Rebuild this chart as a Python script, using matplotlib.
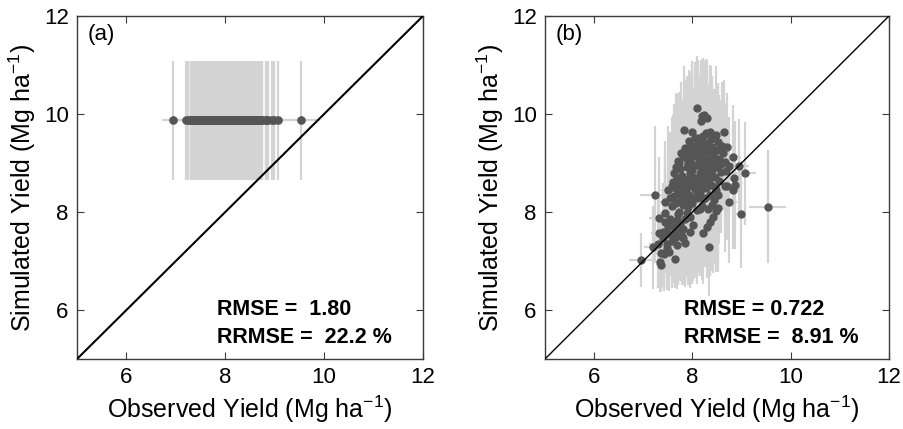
import matplotlib
matplotlib.use("Agg")
import matplotlib.pyplot as plt

plt.rcParams["font.family"] = ["Liberation Sans", "DejaVu Sans"]
plt.rcParams["mathtext.fontset"] = "custom"
plt.rcParams["mathtext.rm"] = "Liberation Sans"
plt.rcParams["mathtext.it"] = "Liberation Sans"

# Observed yield per site-year (Mg/ha) and simulated yield from the calibrated model
obs = [
    8.10, 8.19, 8.24, 8.29, 8.18, 7.83, 7.99, 8.65, 8.36, 8.53,
    8.71, 8.83, 8.75, 8.95, 9.07, 8.85, 8.86, 8.83, 8.66, 8.75,
    8.98, 9.53, 7.24, 7.67, 7.54, 7.31, 7.31, 7.20, 6.95, 7.33,
    7.36, 7.65, 8.34, 8.53, 8.47, 8.42, 8.36, 8.30, 8.21, 7.95,
    7.81, 7.41, 7.49, 7.68, 7.42, 8.02, 7.54, 7.68, 7.44, 7.73,
    8.15, 8.32, 8.26, 7.85, 7.37, 7.58, 7.78, 7.88, 8.09, 7.51,
    7.60, 8.70, 8.62, 8.68,
    8.05, 8.22, 8.38, 8.47, 7.92, 8.12, 8.30,
    7.85, 7.98, 8.08, 8.18, 8.28, 8.40, 8.52, 8.60, 7.76,
    7.82, 7.95, 8.05, 8.14, 8.24, 8.33, 8.44, 8.55, 8.66, 7.70,
    7.74, 7.88, 8.00, 8.10, 8.20, 8.30, 8.40, 8.50, 8.58, 7.62,
    7.68, 7.78, 7.90, 8.02, 8.12, 8.22, 8.34, 8.45, 8.55, 7.60,
    7.64, 7.74, 7.84, 7.95, 8.06, 8.16, 8.28, 8.38, 8.48, 7.50,
    7.62, 7.72, 7.82, 7.92, 8.02, 8.12, 8.22, 8.36, 8.44, 7.45,
    7.58, 7.66, 7.80, 7.90, 8.00, 8.20, 8.40, 7.70,
    8.15, 8.25, 8.05, 7.95, 8.35, 8.10, 8.20, 8.00, 7.90, 8.30,
    8.15, 7.85, 8.25, 8.45,
    7.50, 7.58, 7.70, 7.62, 7.75, 7.85, 7.95, 7.80, 7.55, 7.48,
    7.40, 7.45, 7.66, 7.30, 7.52,
    7.72, 7.80, 7.70, 7.76, 7.86, 7.96, 8.06, 8.16, 8.26, 8.36,
    8.46, 8.52, 8.10, 8.20, 7.98, 8.12, 8.28, 8.40, 7.88, 8.58,
]
sim = [
    10.13, 9.96, 9.98, 9.91, 9.86, 9.67, 9.64, 9.64, 9.64, 9.43,
    9.33, 9.13, 8.94, 8.94, 8.79, 8.70, 8.55, 8.45, 8.53, 8.20,
    7.95, 8.11, 8.35, 8.92, 8.28, 7.88, 7.58, 7.28, 7.02, 6.97,
    6.92, 7.04, 7.29, 8.08, 8.02, 7.90, 7.80, 7.70, 7.58, 7.60,
    7.46, 7.46, 7.26, 7.33, 7.14, 7.73, 7.77, 7.84, 7.97, 8.01,
    8.06, 8.06, 8.28, 7.36, 7.16, 8.54, 7.50, 7.97, 8.04, 7.70,
    7.55, 8.53, 9.20, 8.84,
    9.52, 9.55, 9.48, 9.58, 9.45, 9.42, 9.40,
    9.30, 9.28, 9.33, 9.27, 9.30, 9.32, 9.26, 9.35, 9.20,
    9.12, 9.08, 9.15, 9.10, 9.14, 9.06, 9.12, 9.08, 9.02, 9.05,
    8.88, 8.92, 8.86, 8.95, 8.90, 8.93, 8.86, 8.92, 8.82, 8.80,
    8.70, 8.74, 8.68, 8.72, 8.66, 8.75, 8.68, 8.72, 8.64, 8.62,
    8.48, 8.55, 8.50, 8.54, 8.46, 8.52, 8.48, 8.55, 8.45, 8.45,
    8.32, 8.38, 8.28, 8.35, 8.30, 8.36, 8.26, 8.34, 8.24, 8.20,
    8.12, 8.18, 8.14, 8.10, 8.18, 8.12, 8.15, 7.95,
    9.00, 8.80, 8.60, 8.80, 8.98, 9.20, 9.40, 9.35, 9.00, 8.60,
    8.40, 8.65, 9.20, 9.00,
    7.55, 7.40, 7.62, 7.70, 7.75, 7.85, 7.90, 7.65, 7.85, 7.35,
    7.60, 7.80, 7.48, 7.35, 7.18,
    9.00, 8.60, 8.45, 8.25, 8.40, 8.20, 8.95, 8.80, 9.05, 8.80,
    8.50, 8.35, 8.28, 8.62, 9.15, 9.50, 9.62, 9.20, 9.22, 8.98,
]
# Standard deviation of the observations (horizontal bars)
obs_sd = [
    0.08, 0.06, 0.07, 0.05, 0.06, 0.10, 0.08, 0.12, 0.07, 0.10,
    0.12, 0.15, 0.12, 0.20, 0.22, 0.15, 0.12, 0.14, 0.10, 0.15,
    0.12, 0.38, 0.30, 0.15, 0.18, 0.20, 0.15, 0.18, 0.24, 0.12,
    0.10, 0.12, 0.08, 0.10, 0.06, 0.05, 0.06, 0.05, 0.08, 0.07,
    0.10, 0.18, 0.15, 0.08, 0.16, 0.06, 0.12, 0.08, 0.15, 0.06,
    0.05, 0.06, 0.05, 0.08, 0.12, 0.14, 0.08, 0.06, 0.05, 0.12,
    0.10, 0.12, 0.10, 0.14,
    0.05, 0.06, 0.05, 0.08, 0.06, 0.05, 0.06,
    0.06, 0.05, 0.06, 0.05, 0.06, 0.05, 0.08, 0.10, 0.06,
    0.05, 0.06, 0.05, 0.05, 0.06, 0.05, 0.06, 0.08, 0.10, 0.08,
    0.06, 0.05, 0.05, 0.06, 0.05, 0.06, 0.05, 0.08, 0.10, 0.10,
    0.08, 0.06, 0.05, 0.05, 0.06, 0.05, 0.06, 0.06, 0.08, 0.12,
    0.08, 0.06, 0.05, 0.06, 0.05, 0.06, 0.05, 0.06, 0.08, 0.14,
    0.10, 0.08, 0.06, 0.05, 0.06, 0.05, 0.06, 0.05, 0.08, 0.15,
    0.10, 0.08, 0.06, 0.05, 0.06, 0.05, 0.08, 0.08,
    0.05, 0.05, 0.06, 0.05, 0.06, 0.05, 0.06, 0.05, 0.06, 0.05,
    0.06, 0.05, 0.06, 0.08,
    0.12, 0.14, 0.10, 0.12, 0.08, 0.06, 0.06, 0.08, 0.14, 0.15,
    0.16, 0.15, 0.10, 0.18, 0.14,
    0.06, 0.05, 0.08, 0.06, 0.05, 0.06, 0.05, 0.06, 0.05, 0.06,
    0.08, 0.06, 0.05, 0.06, 0.05, 0.06, 0.05, 0.06, 0.05, 0.08,
]
# Spread of the simulated yield across model ensemble members (vertical bars)
sim_sd = [
    1.05, 1.15, 1.10, 1.20, 1.25, 1.30, 1.45, 1.05, 1.35, 1.20,
    1.10, 1.05, 1.00, 0.95, 1.05, 1.10, 1.30, 1.20, 1.35, 1.25,
    1.10, 1.15, 1.40, 1.50, 1.35, 1.25, 1.10, 0.85, 0.55, 0.60,
    0.55, 0.60, 1.00, 1.30, 1.25, 1.15, 1.10, 1.05, 1.05, 1.00,
    0.95, 1.00, 0.85, 0.90, 0.75, 1.10, 1.05, 1.15, 1.20, 1.25,
    1.30, 1.35, 1.40, 0.90, 0.70, 1.40, 1.00, 1.30, 1.35, 1.10,
    1.00, 1.10, 1.15, 1.20,
    1.55, 1.60, 1.50, 1.40, 1.45, 1.55, 1.50,
    1.40, 1.55, 1.60, 1.70, 1.55, 1.45, 1.35, 1.30, 1.45,
    1.35, 1.50, 1.65, 1.70, 1.60, 1.55, 1.40, 1.30, 1.20, 1.35,
    1.40, 1.55, 1.70, 1.80, 1.75, 1.60, 1.50, 1.35, 1.25, 1.40,
    1.35, 1.55, 1.70, 1.80, 1.85, 1.75, 1.60, 1.45, 1.30, 1.35,
    1.30, 1.45, 1.60, 1.75, 1.80, 1.70, 1.55, 1.45, 1.35, 1.30,
    1.25, 1.40, 1.55, 1.65, 1.70, 1.60, 1.50, 1.40, 1.30, 1.25,
    1.20, 1.35, 1.50, 1.60, 1.65, 1.50, 1.35, 1.20,
    1.80, 1.70, 1.75, 1.70, 1.55, 1.75, 1.65, 1.60, 1.65, 1.60,
    1.70, 1.55, 1.60, 1.45,
    1.05, 0.95, 1.10, 1.10, 1.15, 1.25, 1.30, 1.10, 1.15, 0.90,
    1.00, 1.05, 1.00, 0.90, 0.80,
    1.45, 1.60, 1.50, 1.55, 1.65, 1.75, 1.80, 1.70, 1.60, 1.55,
    1.45, 1.40, 1.75, 1.70, 1.65, 1.60, 1.50, 1.45, 1.55, 1.30,
]

# Uncalibrated model: one simulated value for every site-year
sim_default = 9.87
sim_default_sd = 1.22

panels = ["(a)", "(b)"]
stats = [("RMSE =  1.80", "RRMSE =  22.2 %"), ("RMSE = 0.722", "RRMSE =  8.91 %")]
ticks = [6, 8, 10, 12]
lims = (5, 12)

bar_color = "#d3d3d3"
dot_color = "#555555"
frame_color = "#3a3a3a"

fig = plt.figure(figsize=(9.04, 4.29), dpi=100)
ax_a = fig.add_axes([0.0852, 0.1632, 0.3827, 0.7995])
ax_b = fig.add_axes([0.6029, 0.1632, 0.3805, 0.7995])

# Panel (a): constant simulated yield
ax_a.errorbar(obs, [sim_default] * len(obs), xerr=obs_sd,
              yerr=[sim_default_sd] * len(obs), fmt="none",
              ecolor=bar_color, elinewidth=1.6, capsize=0, zorder=1)
ax_a.plot(obs, [sim_default] * len(obs), "o", color=dot_color,
          markersize=5.2, zorder=2)
ax_a.plot(lims, lims, color="black", lw=1.5, zorder=3)

# Panel (b): calibrated simulation
ax_b.errorbar(obs, sim, xerr=obs_sd, yerr=sim_sd, fmt="none",
              ecolor=bar_color, elinewidth=1.6, capsize=0, zorder=1)
ax_b.plot(obs, sim, "o", color=dot_color, markersize=5.0, zorder=2)
ax_b.plot(lims, lims, color="black", lw=1.0, zorder=3)

for ax, tag, (s1, s2) in zip([ax_a, ax_b], panels, stats):
    ax.set_xlim(lims)
    ax.set_ylim(lims)
    ax.set_xticks(ticks)
    ax.set_yticks(ticks)
    ax.tick_params(direction="in", top=True, right=True, length=5,
                   width=0.8, color=frame_color, labelsize=16, pad=6)
    for sp in ax.spines.values():
        sp.set_color(frame_color)
        sp.set_linewidth(1.0)
    ax.set_xlabel("Observed Yield (Mg ha$^{-1}$)", fontsize=18, labelpad=4)
    ax.set_ylabel("Simulated Yield (Mg ha$^{-1}$)", fontsize=18, labelpad=4)
    ax.text(0.032, 0.945, tag, transform=ax.transAxes, fontsize=16,
            ha="left", va="center")
    ax.text(0.405, 0.143, s1, transform=ax.transAxes, fontsize=15.5,
            fontweight="bold", ha="left", va="center")
    ax.text(0.405, 0.064, s2, transform=ax.transAxes, fontsize=15.5,
            fontweight="bold", ha="left", va="center")

fig.savefig("out.png", dpi=100)
